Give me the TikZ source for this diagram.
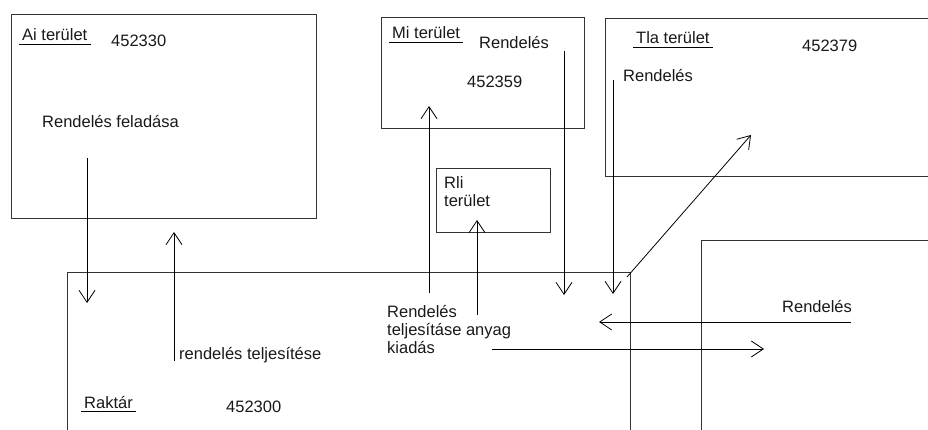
\documentclass[tikz,border=0pt]{standalone}
\usepackage{fontspec}
\setmainfont{Liberation Sans}
\usetikzlibrary{arrows.meta}
\definecolor{vonal}{HTML}{333333}

\begin{document}
\begin{tikzpicture}[x=1pt, y=-1pt,
  area/.style={draw=vonal, line width=0.9pt, inner sep=0pt, anchor=north west},
  lbl/.style={font=\fontsize{16.5}{18}\selectfont, text=black!90, inner sep=0pt, anchor=base west},
  ulbl/.style={lbl, inner xsep=3pt, inner ysep=3pt},
  uline/.style={draw=black, line width=0.8pt},
  arr/.style={draw=black, line width=0.8pt, -{Straight Barb[length=12pt,width=16pt]}},
]
\useasboundingbox (0,0) rectangle (928,430);
\clip (0,0) rectangle (928,430);

% areas (boxes)
\node[area, minimum width=305, minimum height=204] (ai)     at (11,14)   {};
\node[area, minimum width=203, minimum height=111] (mi)     at (381,17)  {};
\node[area, minimum width=114, minimum height=64]  (rli)    at (436,168) {};
\node[area, minimum width=345, minimum height=158] (tla)    at (605,18)  {};
\node[area, minimum width=563, minimum height=180] (raktar) at (67,272)  {};
\node[area, minimum width=250, minimum height=210] (kulso)  at (701,240) {};

% labels
\node[ulbl] (aicim)      at (19,41)   {Ai terület};
\node[lbl]  (aiszam)     at (111,47)  {452330};
\node[lbl]  (aifel)      at (42,128)  {Rendelés feladása};
\node[ulbl] (micim)      at (389,39)  {Mi terület};
\node[lbl]  (mirend)     at (479,49)  {Rendelés};
\node[lbl]  (miszam)     at (467,88)  {452359};
\node[lbl, anchor=north west, align=left] (rlicim) at (444,176) {Rli\\terület};
\node[ulbl] (tlacim)     at (633,44)  {Tla terület};
\node[lbl]  (tlaszam)    at (802,52)  {452379};
\node[lbl]  (tlarend)    at (623,82)  {Rendelés};
\node[lbl, anchor=north west, align=left] (kiadas) at (387,305) {Rendelés\\teljesításe anyag\\kiadás};
\node[lbl]  (jobbrend)   at (782,312) {Rendelés};
\node[lbl]  (rteljes)    at (179,359) {rendelés teljesítése};
\node[ulbl] (raktarcim)  at (81,408)  {Raktár};
\node[lbl]  (raktarszam) at (226,412) {452300};

\foreach \n in {aicim,micim,tlacim,raktarcim}
  \draw[uline] (\n.south west) -- (\n.south east);

% arrow end points
\coordinate (fel1)    at (87,158);  \coordinate (fel2)    at (87,303);
\coordinate (telj1)   at (174,361); \coordinate (telj2)   at (174,232);
\coordinate (mibe1)   at (429,293); \coordinate (mibe2)   at (429,106);
\coordinate (rlibe1)  at (477,315); \coordinate (rlibe2)  at (477,220);
\coordinate (miki1)   at (564,51);  \coordinate (miki2)   at (564,295);
\coordinate (tlaki1)  at (613,80);  \coordinate (tlaki2)  at (613,294);
\coordinate (tlabe1)  at (627,277); \coordinate (tlabe2)  at (751,135);
\coordinate (jobbki1) at (851,322); \coordinate (jobbki2) at (599,322);
\coordinate (jobbbe1) at (492,349); \coordinate (jobbbe2) at (764,349);

\foreach \s/\e in {fel1/fel2, telj1/telj2, mibe1/mibe2, rlibe1/rlibe2, miki1/miki2,
                   tlaki1/tlaki2, tlabe1/tlabe2, jobbki1/jobbki2, jobbbe1/jobbbe2}
  \draw[arr] (\s) -- (\e);
\end{tikzpicture}
\end{document}
